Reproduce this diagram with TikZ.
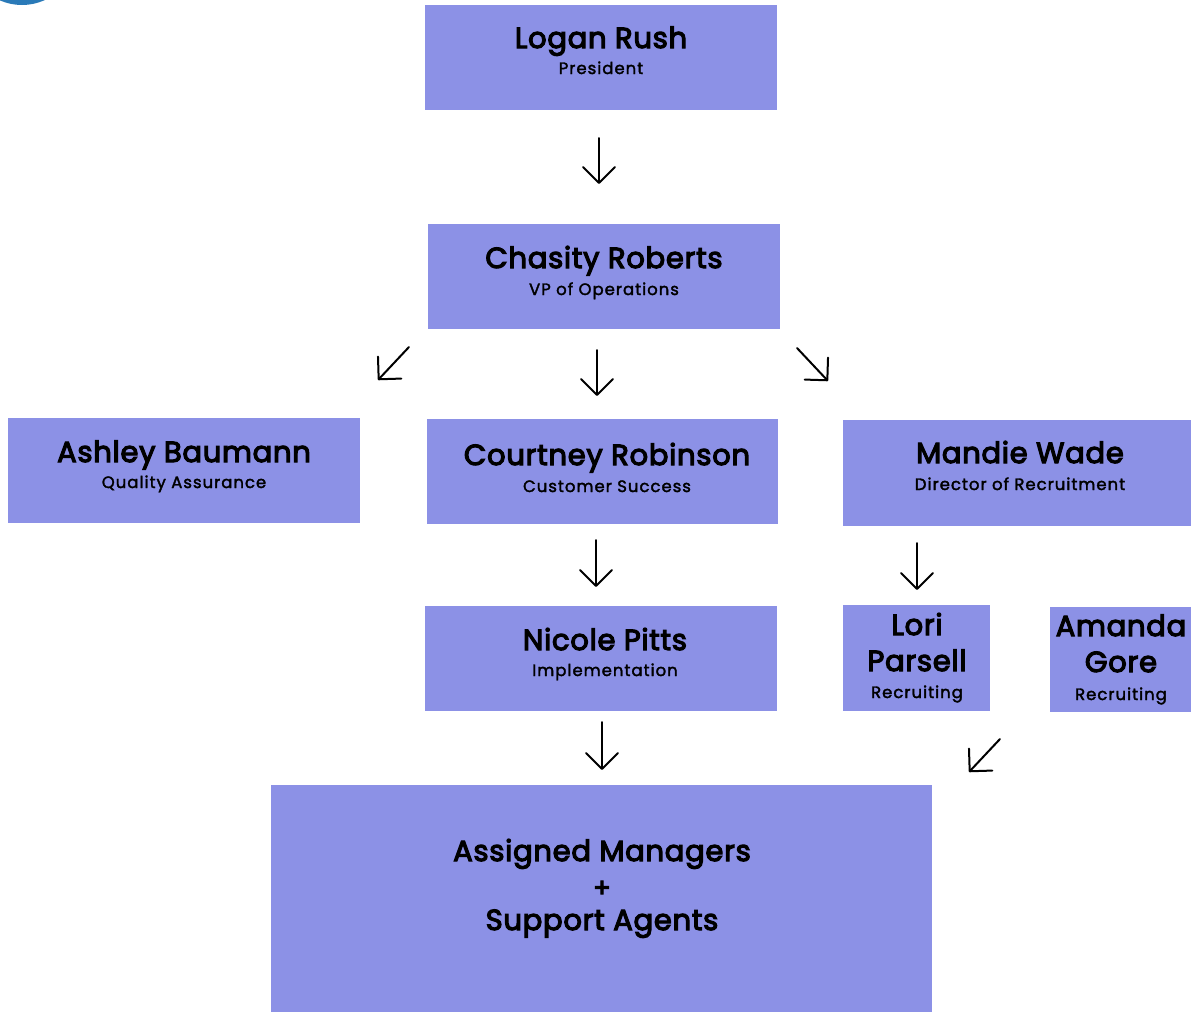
\documentclass[tikz,border=0pt]{standalone}
\usepackage{fontspec}
\setmainfont{Poppins}
\newfontfamily\namefont[FakeBold=4,LetterSpace=2.5]{Poppins}
\newfontfamily\rolefont[FakeBold=2,LetterSpace=6]{Poppins}
\usepackage{tikz}
\usetikzlibrary{arrows.meta}
\usetikzlibrary{fit}
\definecolor{boxblue}{RGB}{140,145,230}
\definecolor{dotblue}{RGB}{42,122,184}

\begin{document}
\begin{tikzpicture}[x=1pt,y=-1pt,
    box/.style={fill=boxblue,inner sep=0pt},
    pname/.style={anchor=base,inner sep=0pt,font=\namefont\fontsize{29}{36}\selectfont},
    prole/.style={anchor=base,inner sep=0pt,font=\rolefont\fontsize{16.5}{20}\selectfont},
    arr/.style={-{Straight Barb[length=16pt,width=32pt,round]},line width=2pt,line cap=round}]
            \useasboundingbox (0,0) rectangle (1191,1012);
            \fill[dotblue] (22,-50) circle (55pt);
            % boxes
            \node[box,fit={(425,5) (777,110)}] (logan) {};
            \node[box,fit={(428,224) (780,329)}] (chasity) {};
            \node[box,fit={(8,418) (360,523)}] (ashley) {};
            \node[box,fit={(427,419) (778,524)}] (courtney) {};
            \node[box,fit={(843,420) (1191,526)}] (mandie) {};
            \node[box,fit={(425,606) (777,711)}] (nicole) {};
            \node[box,fit={(843,605) (990,711)}] (lori) {};
            \node[box,fit={(1050,607) (1191,712)}] (amanda) {};
            \node[box,fit={(271,785) (932,1012)}] (assigned) {};
            % texts
            \node[pname] (logan-name) at (601,48) {Logan Rush};
            \node[prole] (logan-role) at (601,74) {President};
            \node[pname] (chasity-name) at (604,268) {Chasity Roberts};
            \node[prole] (chasity-role) at (604,295) {VP of Operations};
            \node[pname] (ashley-name) at (184,462) {Ashley Baumann};
            \node[prole] (ashley-role) at (184,488) {Quality Assurance};
            \node[pname] (courtney-name) at (607,465) {Courtney Robinson};
            \node[prole] (courtney-role) at (607,492) {Customer Success};
            \node[pname] (mandie-name) at (1020,463) {Mandie Wade};
            \node[prole] (mandie-role) at (1020,490) {Director of Recruitment};
            \node[pname] (nicole-name) at (605,650) {Nicole Pitts};
            \node[prole] (nicole-role) at (605,676) {Implementation};
            \node[pname] (lori-name1) at (917,635) {Lori};
            \node[pname] (lori-name2) at (917,671) {Parsell};
            \node[prole] (lori-role) at (917,698) {Recruiting};
            \node[pname] (amanda-name1) at (1121,636) {Amanda};
            \node[pname] (amanda-name2) at (1121,672) {Gore};
            \node[prole] (amanda-role) at (1121,700) {Recruiting};
            \node[pname] (assigned-line1) at (602,861) {Assigned Managers};
            \node[pname,font=\namefont\fontsize{26}{30}\selectfont] (assigned-line2) at (602,897) {+};
            \node[pname] (assigned-line3) at (602,930) {Support Agents};
            % arrows
            \coordinate (logan-out) at (599,138);
            \coordinate (chasity-in) at (599,184);
            \coordinate (chasity-outl) at (409,347);
            \coordinate (ashley-in) at (378,380);
            \coordinate (chasity-outc) at (597,350);
            \coordinate (courtney-in) at (597,396);
            \coordinate (chasity-outr) at (797,348);
            \coordinate (mandie-in) at (828,381);
            \coordinate (courtney-out) at (596,540);
            \coordinate (nicole-in) at (596,587);
            \coordinate (mandie-out) at (917,543);
            \coordinate (lori-in) at (917,590);
            \coordinate (nicole-out) at (602,722);
            \coordinate (assigned-in) at (602,770);
            \coordinate (amanda-out) at (1000,739);
            \coordinate (assigned-inr) at (969,772);
            \draw[arr] (logan-out) -- (chasity-in);
            \draw[arr] (chasity-outl) -- (ashley-in);
            \draw[arr] (chasity-outc) -- (courtney-in);
            \draw[arr] (chasity-outr) -- (mandie-in);
            \draw[arr] (courtney-out) -- (nicole-in);
            \draw[arr] (mandie-out) -- (lori-in);
            \draw[arr] (nicole-out) -- (assigned-in);
            \draw[arr] (amanda-out) -- (assigned-inr);
\end{tikzpicture}
\end{document}
